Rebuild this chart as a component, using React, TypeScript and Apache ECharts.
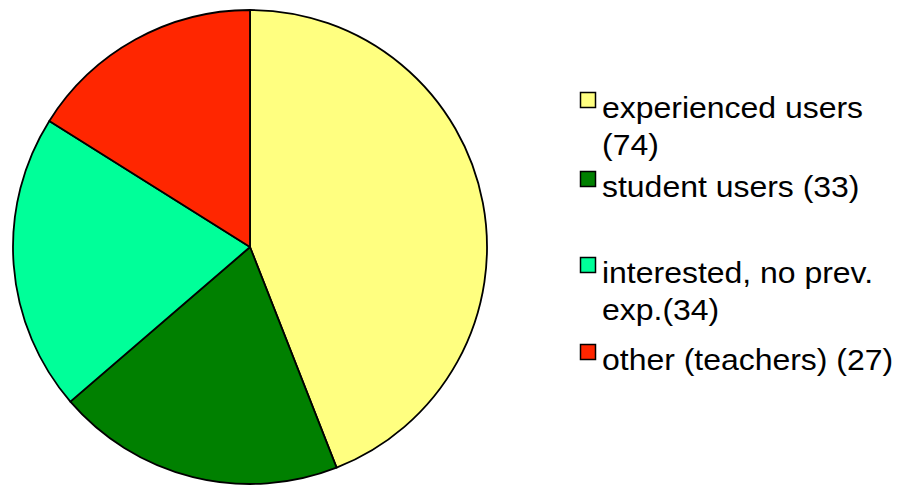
import React, { useEffect, useRef } from "react";
import * as echarts from "echarts";

const categories = ["experienced users", "student users", "interested, no prev. exp.", "other (teachers)"];
const values = [74, 33, 34, 27];
const colors = ["#FFFF80", "#008000", "#00FF99", "#FF2600"];
const legendLines = [
  ["experienced users", "(74)"],
  ["student users (33)"],
  ["interested, no prev.", "exp.(34)"],
  ["other (teachers) (27)"],
];
const legendTops = [108, 187, 273, 360];

export default function App() {
  const ref = useRef<HTMLDivElement>(null);
  useEffect(() => {
    const chart = echarts.init(ref.current!, null, { renderer: "svg" });
    const graphic: any[] = [];
    legendLines.forEach((lines, i) => {
      const cy = legendTops[i];
      graphic.push({
        type: "rect",
        shape: { x: 580.5, y: cy - 15.5, width: 15, height: 15 },
        style: { fill: colors[i], stroke: "#000", lineWidth: 1.5 },
      });
      lines.forEach((t, j) => {
        graphic.push({
          type: "text",
          x: 602,
          y: cy + j * 37,
          scaleX: 1.065,
          style: {
            text: t,
            font: "30px 'Liberation Sans', Arial, sans-serif",
            fill: "#000",
            verticalAlign: "middle",
            align: "left",
          },
        });
      });
    });
    chart.setOption({
      animation: false,
      backgroundColor: "#fff",
      series: [
        {
          type: "pie",
          center: [250, 247],
          radius: 237,
          startAngle: 90,
          clockwise: true,
          label: { show: false },
          labelLine: { show: false },
          emphasis: { disabled: true },
          itemStyle: { borderColor: "#000", borderWidth: 1.8 },
          data: categories.map((name, i) => ({
            name,
            value: values[i],
            itemStyle: { color: colors[i] },
          })),
        },
      ],
      graphic,
    });
    return () => chart.dispose();
  }, []);
  return <div ref={ref} style={{ width: 898, height: 485, position: "absolute", left: 0, top: 0 }} />;
}
